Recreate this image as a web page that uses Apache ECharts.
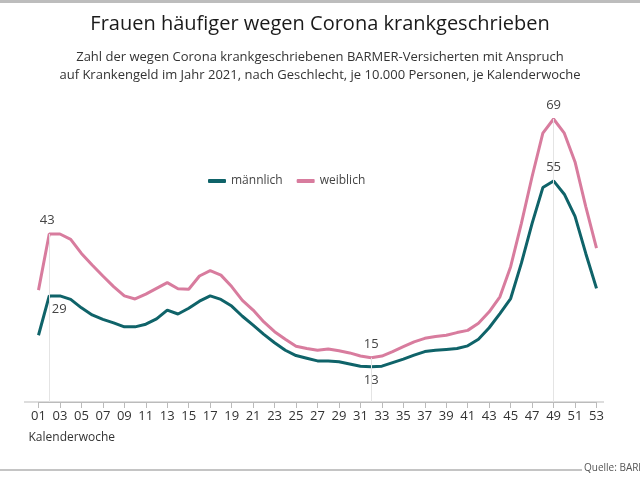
<!DOCTYPE html>
<html><head><meta charset="utf-8">
<script src="https://cdn.jsdelivr.net/npm/echarts@6/dist/echarts.min.js"></script>
<style>html,body{margin:0;padding:0;background:#fff}#c{width:640px;height:480px}</style>
</head><body><div id="c"></div>
<script>
const weeks = ['01','02','03','04','05','06','07','08','09','10','11','12','13','14','15','16','17','18','19','20','21','22','23','24','25','26','27','28','29','30','31','32','33','34','35','36','37','38','39','40','41','42','43','44','45','46','47','48','49','50','51','52','53'];
const maennlich = [20.1,29,29,28.2,26.3,24.7,23.7,22.9,22,22,22.6,23.8,25.8,24.9,26.2,27.8,29,28.2,26.7,24.4,22.4,20.3,18.4,16.7,15.5,14.9,14.3,14.3,14.1,13.6,13.1,13,13.1,13.9,14.7,15.6,16.4,16.7,16.9,17.1,17.7,19.2,21.8,25,28.4,36.4,45.4,53.5,55,52,47,38.6,30.7];
const weiblich = [30.3,43,43,41.8,38.6,36,33.5,31.1,29,28.3,29.4,30.7,32,30.6,30.5,33.5,34.7,33.7,31.1,28,25.8,23.1,20.9,19.2,17.6,17.1,16.7,17,16.6,16.1,15.4,15,15.4,16.4,17.5,18.6,19.4,19.8,20.1,20.7,21.2,22.8,25.4,28.8,35.6,45.4,56,65.8,69,65.8,59.3,49.2,39.8];
const labelWeeks = ['02','32','49'];
const labM = {'02':'29','32':'13','49':'55'};
const labW = {'02':'43','32':'15','49':'69'};

const FONT = '"Open Sans", "Noto Sans", sans-serif';
const TEAL = '#0f6369';
const PINK = '#d87c9e';

function mk(arr, labs, pos, off){
  return arr.map((v,i)=>{
    const w = weeks[i];
    if (labelWeeks.includes(w)) {
      return {value:v, label:{show:true, position:pos[w], offset:off[w]||[0,0], formatter:labs[w], color:'#444', fontSize:13, fontFamily:FONT, distance:7}};
    }
    return v;
  });
}
const posM = {'02':'bottom','32':'bottom','49':'top'};
const offM = {'02':[10,0]};
const posW = {'02':'top','32':'top','49':'top'};
const offW = {'02':[-2,0]};

const chart = echarts.init(document.getElementById('c'));
chart.setOption({
  animation:false,
  backgroundColor:'#fff',
  title:[
    {text:'Frauen häufiger wegen Corona krankgeschrieben', left:'center', top:9,
     textStyle:{fontFamily:FONT, fontSize:20, fontWeight:'normal', color:'#1a1a1a'}},
    {text:'Zahl der wegen Corona krankgeschriebenen BARMER-Versicherten mit Anspruch', left:'center', top:46,
     textStyle:{fontFamily:FONT, fontSize:13, fontWeight:'normal', color:'#333'}},
    {text:'auf Krankengeld im Jahr 2021, nach Geschlecht, je 10.000 Personen, je Kalenderwoche', left:'center', top:64,
     textStyle:{fontFamily:FONT, fontSize:13, fontWeight:'normal', color:'#333'}}
  ],
  legend:{left:203, top:170, itemWidth:18, itemHeight:4, itemGap:14, icon:'roundRect',
    textStyle:{fontFamily:FONT, fontSize:12, color:'#444'},
    data:['männlich','weiblich']},
  grid:{left:38.5, right:43.5, top:92.5, bottom:78},
  xAxis:{type:'category', data:weeks, boundaryGap:false,
    axisLine:{lineStyle:{color:'#bbb', width:1}},
    axisTick:{alignWithLabel:true, length:6, interval:1, lineStyle:{color:'#bbb'}},
    axisLabel:{interval:1, color:'#333', fontSize:13, fontFamily:FONT, margin:8},
    name:'Kalenderwoche', nameLocation:'start', nameGap:0,
    nameTextStyle:{fontFamily:FONT, fontSize:12, color:'#333', align:'left', verticalAlign:'top', padding:[30,0,0,-10]}
  },
  yAxis:{type:'value', min:5, max:75, show:false, splitLine:{show:false}},
  series:[
    {name:'männlich', type:'line', data:mk(maennlich, labM, posM, offM), symbol:'circle', symbolSize:0, showSymbol:true,
     lineStyle:{color:TEAL, width:3}, itemStyle:{color:TEAL}, z:3},
    {name:'weiblich', type:'line', data:mk(weiblich, labW, posW, offW), symbol:'circle', symbolSize:0, showSymbol:true,
     lineStyle:{color:PINK, width:3}, itemStyle:{color:PINK}, z:2,
     markLine:{silent:true, symbol:'none', label:{show:false}, lineStyle:{color:'#e4e4e4', width:1, type:'solid'},
       data: labelWeeks.map(w=>[{coord:[w, weiblich[weeks.indexOf(w)]]},{coord:[w, 5]}])}
    }
  ],
  graphic:[
    {type:'rect', shape:{x:0,y:0,width:640,height:3}, style:{fill:'#bdbdbd'}},
    {type:'line', shape:{x1:24,y1:402,x2:604,y2:402}, style:{stroke:'#bbb', lineWidth:1}},
    {type:'rect', shape:{x:0,y:469,width:582,height:2}, style:{fill:'#c4c4c4'}},
    {type:'text', left:584, top:463, style:{text:'Quelle: BARMER', fontFamily:FONT, fontSize:10, fill:'#555'}}
  ]
});
</script></body></html>
